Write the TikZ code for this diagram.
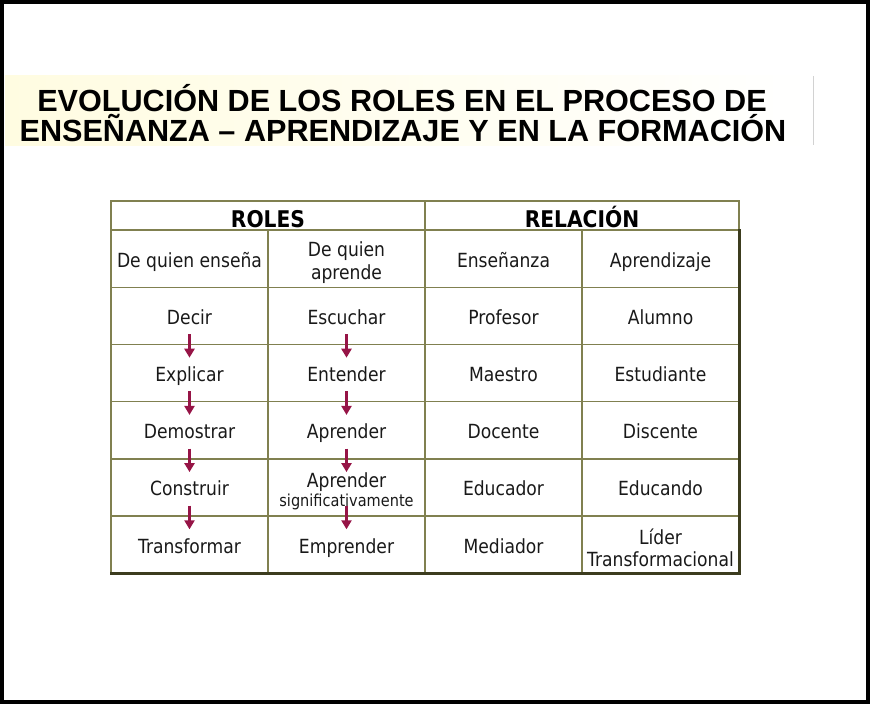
\documentclass[tikz,border=0pt]{standalone}
\usepackage{fontspec}
\usetikzlibrary{arrows.meta}
\newfontfamily\titulofont{Liberation Sans}
\newfontfamily\letra[FakeStretch=0.88]{DejaVu Sans}
\definecolor{linea}{RGB}{128,128,80}
\definecolor{borde}{RGB}{60,60,30}
\definecolor{granate}{RGB}{150,20,70}
\definecolor{texto}{RGB}{25,25,25}
\definecolor{crema}{RGB}{255,252,225}
\newcommand\alto{\rule[-5pt]{0pt}{27pt}}

\tikzset{
  celda/.style = {draw=linea, line width=1.4pt, minimum width=157pt, minimum height=57.2pt,
    inner sep=0pt, align=center, text=texto, font=\letra\fontsize{19.5}{23}\selectfont},
  cabeza/.style = {celda, minimum width=314pt, minimum height=29pt, text height=23pt, text depth=0pt,
    text=black, font=\letra\bfseries\fontsize{23}{27}\selectfont},
  titulo/.style = {anchor=base, font=\titulofont\bfseries\fontsize{30.6}{31}\selectfont},
  flecha/.style = {draw=granate, line width=2.5pt, -{Triangle[width=10pt,length=9pt]}}
}

\begin{document}
\begin{tikzpicture}[x=1pt, y=-1pt]
  \useasboundingbox (0,0) rectangle (870,704);

  %title band
  \shade[left color=crema, right color=white] (5,75) rectangle (813,145);
  \draw[gray!35, line width=1pt] (813,76) -- (813,145);
  \node[titulo] (tit1) at (402,111) {EVOLUCIÓN DE LOS ROLES EN EL PROCESO DE};
  \node[titulo] (tit2) at (403,141) {ENSEÑANZA – APRENDIZAJE Y EN LA FORMACIÓN};

  %header
  \node[cabeza] (roles) at (268,215.5) {ROLES};
  \node[cabeza] (relacion) at (582,215.5) {RELACIÓN};

  %table body
  \foreach \f/\a/\b/\c/\d in {
    1/{De quien enseña}/{De quien\\aprende}/Enseñanza/Aprendizaje,
    2/Decir/Escuchar/Profesor/Alumno,
    3/Explicar/Entender/Maestro/Estudiante,
    4/Demostrar/Aprender/Docente/Discente,
    5/Construir/{Aprender\\[-4pt]{\fontsize{16.5}{19}\selectfont significativamente}}/Educador/Educando,
    6/Transformar/Emprender/Mediador/{Líder\\[-1pt]Transformacional}}
  {
    \node[celda] (f\f-1) at (189.5,201.4+57.2*\f) {\alto\a};
    \node[celda] (f\f-2) at (346.5,201.4+57.2*\f) {\alto\b};
    \node[celda] (f\f-3) at (503.5,201.4+57.2*\f) {\alto\c};
    \node[celda] (f\f-4) at (660.5,201.4+57.2*\f) {\alto\d};
  }

  %shadow edge
  \draw[borde, line width=3pt] (f1-4.north east) -- (f6-4.south east) -- (f6-1.south west);

  %arrows
  \foreach \i in {2,...,5} {
    \pgfmathtruncatemacro\j{\i+1}
    \draw[flecha] ([yshift=11pt]f\i-1.south) -- ([yshift=-14pt]f\j-1.north);
    \draw[flecha] ([yshift=11pt]f\i-2.south) -- ([yshift=-14pt]f\j-2.north);
  }

  %frame
  \draw[black, line width=4pt] (2,2) rectangle (868,702);
\end{tikzpicture}
\end{document}
